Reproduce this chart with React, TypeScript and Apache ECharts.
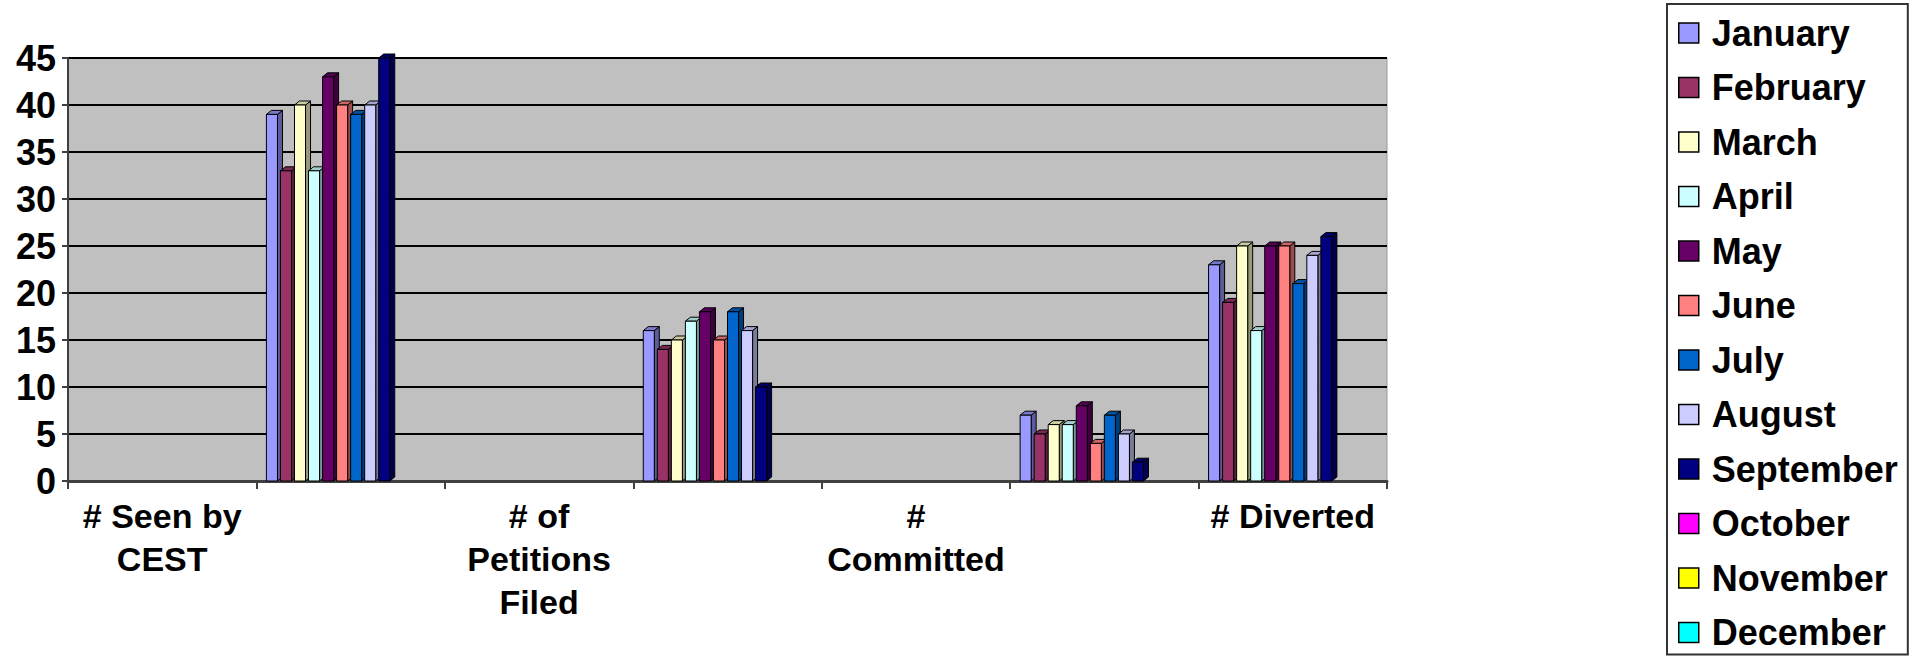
import React, { useEffect, useRef } from "react";
import * as echarts from "echarts";

const categories = ["# Seen by\nCEST", "", "# of\nPetitions\nFiled", "", "#\nCommitted", "", "# Diverted"];
const months = ["January", "February", "March", "April", "May", "June", "July", "August", "September", "October", "November", "December"];

const january = [null, 39, null, 16, null, 7, 23];
const february = [null, 33, null, 14, null, 5, 19];
const march = [null, 40, null, 15, null, 6, 25];
const april = [null, 33, null, 17, null, 6, 16];
const may = [null, 43, null, 18, null, 8, 25];
const june = [null, 40, null, 15, null, 4, 25];
const july = [null, 39, null, 18, null, 7, 21];
const august = [null, 40, null, 16, null, 5, 24];
const september = [null, 45, null, 10, null, 2, 26];
const october = [null, null, null, null, null, null, null];
const november = [null, null, null, null, null, null, null];
const december = [null, null, null, null, null, null, null];

const monthValues = [january, february, march, april, may, june, july, august, september, october, november, december];
const monthColors = ["#9999FF", "#993366", "#FFFFCC", "#CCFFFF", "#660066", "#FF8080", "#0066CC", "#CCCCFF", "#000080", "#FF00FF", "#FFFF00", "#00FFFF"];

const yMin = 0;
const yMax = 45;
const yStep = 5;

function shade(hex: string, f: number) {
  const n = parseInt(hex.slice(1), 16);
  const r = Math.round(((n >> 16) & 255) * f);
  const g = Math.round(((n >> 8) & 255) * f);
  const b = Math.round((n & 255) * f);
  return `rgb(${r},${g},${b})`;
}

const FONT = "'Liberation Sans', Arial, sans-serif";

export default function App() {
  const ref = useRef<HTMLDivElement>(null);
  useEffect(() => {
    document.body.style.margin = "0";
    const chart = echarts.init(ref.current!, null, { renderer: "svg" });
    const nSeries = months.length;
    const series = months.map((name, si) => {
      const color = monthColors[si];
      const data = monthValues[si]
        .map((v, ci) => (v == null ? null : [ci, v]))
        .filter((d) => d !== null);
      return {
        type: "custom",
        name,
        itemStyle: { color },
        encode: { x: 0, y: 1 },
        clip: false,
        data,
        renderItem: (params: any, api: any) => {
          const ci = api.value(0);
          const v = api.value(1);
          const base = api.coord([ci, 0]);
          const top = api.coord([ci, v]);
          const band = api.size([1, 0])[0];
          const groupW = band * 0.894;
          const slot = groupW / nSeries;
          const dx = 5;
          const dy = 4;
          const w = slot - 3;
          const x = base[0] - groupW / 2 + si * slot;
          const yb = base[1];
          const yt = top[1];
          const stroke = { stroke: "#000", lineWidth: 1 };
          return {
            type: "group",
            children: [
              {
                type: "polygon",
                shape: { points: [[x + w, yt], [x + w + dx, yt - dy], [x + w + dx, yb - dy], [x + w, yb]] },
                style: { fill: shade(color, 0.6), ...stroke },
              },
              {
                type: "polygon",
                shape: { points: [[x, yt], [x + dx, yt - dy], [x + w + dx, yt - dy], [x + w, yt]] },
                style: { fill: shade(color, 0.8), ...stroke },
              },
              {
                type: "rect",
                shape: { x, y: yt, width: w, height: yb - yt },
                style: { fill: color, ...stroke },
              },
            ],
          };
        },
      };
    });

    chart.setOption({
      animation: false,
      grid: {
        left: 68,
        top: 58,
        width: 1319,
        height: 423,
        show: true,
        backgroundColor: "#C0C0C0",
        borderColor: "#9A9A9A",
        borderWidth: 1,
      },
      legend: {
        orient: "vertical",
        left: 1667,
        top: 4,
        padding: [11, 10, 4, 11],
        itemGap: 18.5,
        itemWidth: 20,
        itemHeight: 20,
        icon: "rect",
        borderColor: "#333",
        borderWidth: 2,
        itemStyle: { borderColor: "#000", borderWidth: 1.5 },
        textStyle: {
          fontFamily: FONT,
          fontWeight: "bold",
          fontSize: 36,
          color: "#000",
          padding: [0, 0, 0, 8],
        },
        data: months,
      },
      xAxis: {
        type: "category",
        data: categories,
        axisLine: { lineStyle: { color: "#404040", width: 3 } },
        axisTick: { show: true, length: 8, lineStyle: { color: "#404040", width: 2 } },
        axisLabel: {
          interval: 0,
          margin: 13,
          fontFamily: FONT,
          fontWeight: "bold",
          fontSize: 34,
          lineHeight: 43,
          color: "#000",
        },
        splitLine: { show: false },
      },
      yAxis: {
        type: "value",
        min: yMin,
        max: yMax,
        interval: yStep,
        axisLine: { show: true, lineStyle: { color: "#404040", width: 2 } },
        axisTick: { show: true, length: 6, lineStyle: { color: "#404040", width: 2 } },
        axisLabel: {
          margin: 12,
          fontFamily: FONT,
          fontWeight: "bold",
          fontSize: 36,
          color: "#000",
        },
        splitLine: { show: true, lineStyle: { color: "#000", width: 2 } },
      },
      series,
    });
    return () => chart.dispose();
  }, []);
  return <div ref={ref} style={{ width: 1916, height: 658 }} />;
}
